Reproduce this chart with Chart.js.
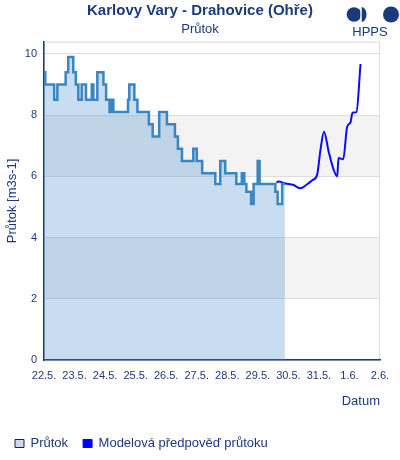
<!DOCTYPE html>
<html>
<head>
<meta charset="utf-8">
<script src="https://cdn.jsdelivr.net/npm/chart.js@4"></script>
<style>
  html, body { margin: 0; padding: 0; background: #fff; }
  #wrap { width: 400px; height: 460px; }
</style>
</head>
<body>
<div id="wrap"><canvas id="flowChart" width="400" height="460"></canvas></div>
<script>
// tick labels (one per day, 22.5. - 2.6.)
const dayLabels = ['22.5.', '23.5.', '24.5.', '25.5.', '26.5.', '27.5.', '28.5.', '29.5.', '30.5.', '31.5.', '1.6.', '2.6.'];
const yTicks = [0, 2, 4, 6, 8, 10];

// measured flow: hours since 22.5. 00:00 and value from that hour on
const obsHours = [0, 1, 8, 10.5, 17, 19, 23, 25, 27, 29.6, 33, 37.5, 38.8, 41.9, 46.7, 48.8, 51.5, 53, 54.5, 66, 67, 71, 73.4,
  82.4, 85.4, 90.5, 96.6, 102.9, 105.2, 108.4, 117.3, 120, 124.3, 134.6, 138.5, 142.4, 151.1, 155.4, 157.4, 159, 162.7,
  164.7, 167.9, 169.4, 181.8, 183.6, 187.1, 189.3];
const obsValues = [9.4, 9.0, 8.5, 9.0, 9.4, 9.9, 9.4, 9.0, 8.5, 9.0, 8.5, 9.0, 8.5, 9.4, 9.0, 8.5, 8.1, 8.5, 8.1, 8.5, 9.0, 8.5, 8.1,
  7.7, 7.3, 8.1, 7.7, 7.3, 6.9, 6.5, 6.9, 6.5, 6.1, 5.75, 6.5, 6.1, 5.75, 6.1, 5.75, 5.5, 5.1,
  5.75, 6.5, 5.75, 5.5, 5.1, 5.75, 5.75];

// model forecast
const fcHours = [182.6, 184.2, 189.7, 196, 201.5, 207, 211, 214.6, 217.2, 220, 223.7, 227.7, 230.4, 231.4, 235.1, 238.2, 240.8, 242.4, 245.5, 248.7];
const fcValues = [5.8, 5.83, 5.77, 5.72, 5.61, 5.75, 5.88, 6.05, 6.86, 7.46, 6.8, 6.2, 6.0, 6.6, 6.56, 7.62, 7.76, 8.08, 8.1, 9.67];

// shaded background bands [from, to]
const bands = [[2, 4], [6, 8]];

const navy = '#1b3a7a';
const fontFam = '"Liberation Sans", Arial, sans-serif';

const backgroundPlugin = {
  id: 'bg',
  beforeDraw(chart) {
    const { ctx, chartArea: a, scales: { y } } = chart;
    ctx.save();
    ctx.fillStyle = '#f3f3f3';
    bands.forEach(function (b) {
      const top = y.getPixelForValue(b[1]);
      const bot = y.getPixelForValue(b[0]);
      ctx.fillRect(a.left, top, a.right - a.left, bot - top);
    });
    ctx.strokeStyle = '#dddddd';
    ctx.lineWidth = 1;
    ctx.strokeRect(a.left + 0.5, a.top + 0.5, a.right - a.left - 1, a.bottom - a.top);
    ctx.restore();
  },
  afterDraw(chart) {
    // HPPS logo
    const ctx = chart.ctx;
    ctx.save();
    ctx.fillStyle = navy;
    ctx.beginPath();
    ctx.arc(354, 14.5, 7.3, 0, Math.PI * 2);
    ctx.fill();
    ctx.beginPath();
    ctx.ellipse(361.5, 14.5, 5, 7.5, 0, -Math.PI / 2, Math.PI / 2);
    ctx.closePath();
    ctx.fill();
    ctx.fillStyle = '#fff';
    ctx.fillRect(360.3, 6, 1.2, 17);
    ctx.fillStyle = navy;
    ctx.beginPath();
    ctx.arc(391, 14.5, 8, 0, Math.PI * 2);
    ctx.fill();
    ctx.font = '13px ' + fontFam;
    ctx.textAlign = 'center';
    ctx.textBaseline = 'middle';
    ctx.fillText('HPPS', 370, 32);
    ctx.restore();
  }
};

const ctx = document.getElementById('flowChart').getContext('2d');
const myChart = new Chart(ctx, {
  type: 'line',
  data: {
    datasets: [
      {
        label: 'Průtok',
        data: obsHours.map((h, i) => ({ x: h, y: obsValues[i] })),
        borderColor: '#3a86c3',
        backgroundColor: 'rgba(72, 142, 205, 0.3)',
        borderWidth: 2.5,
        stepped: 'before',
        pointRadius: 0,
        fill: 'origin'
      },
      {
        label: 'Modelová předpověď průtoku',
        data: fcHours.map((h, i) => ({ x: h, y: fcValues[i] })),
        borderColor: '#0a0aff',
        backgroundColor: '#0000ff',
        borderWidth: 2,
        cubicInterpolationMode: 'monotone',
        pointRadius: 0,
        fill: false
      }
    ]
  },
  plugins: [backgroundPlugin],
  options: {
    responsive: false,
    animation: false,
    layout: { padding: { left: 0, right: 0, top: 0, bottom: 0 } },
    scales: {
      x: {
        type: 'linear',
        min: 0,
        max: 264,
        grid: { display: false },
        border: { display: true, color: navy, width: 1.5 },
        ticks: {
          stepSize: 24,
          color: navy,
          font: { family: fontFam, size: 11 },
          padding: 1,
          maxRotation: 0,
          autoSkip: false,
          callback: function (v) { return dayLabels[Math.round(v / 24)]; }
        },
        title: {
          display: true,
          text: 'Datum',
          align: 'end',
          color: navy,
          font: { family: fontFam, size: 13 },
          padding: { top: 10, bottom: 13 }
        }
      },
      y: {
        min: 0,
        max: 10.4,
        afterFit: function (s) { s.width = 44; },
        afterBuildTicks: function (s) { s.ticks = yTicks.map(v => ({ value: v })); },
        grid: { color: '#dddddd', drawTicks: false },
        border: { display: true, color: navy, width: 1.5 },
        ticks: {
          color: navy,
          padding: 7,
          font: { family: fontFam, size: 11 }
        },
        title: {
          display: true,
          text: 'Průtok [m3s-1]',
          color: navy,
          font: { family: fontFam, size: 13 },
          padding: { top: 5, bottom: 0 }
        }
      },
      yRight: {
        position: 'right',
        display: true,
        afterFit: function (s) { s.width = 20; },
        grid: { display: false },
        border: { display: false },
        ticks: { display: false }
      }
    },
    plugins: {
      title: {
        display: true,
        text: 'Karlovy Vary - Drahovice (Ohře)',
        color: navy,
        font: { family: fontFam, size: 15, weight: 'bold' },
        padding: { top: 2, bottom: 2 }
      },
      subtitle: {
        display: true,
        text: 'Průtok',
        color: navy,
        font: { family: fontFam, size: 13 },
        padding: { bottom: 4 }
      },
      legend: {
        position: 'bottom',
        align: 'start',
        labels: {
          boxWidth: 9,
          boxHeight: 8,
          padding: 15,
          color: navy,
          font: { family: fontFam, size: 13 },
          generateLabels: function (chart) {
            return [
              { text: 'Průtok', fillStyle: '#c8ddf0', strokeStyle: '#222', lineWidth: 1, datasetIndex: 0, fontColor: navy },
              { text: 'Modelová předpověď průtoku', fillStyle: '#0000ff', strokeStyle: '#0000ff', lineWidth: 1, datasetIndex: 1, fontColor: navy }
            ];
          }
        }
      },
      tooltip: { enabled: false }
    }
  }
});
</script>
</body>
</html>
